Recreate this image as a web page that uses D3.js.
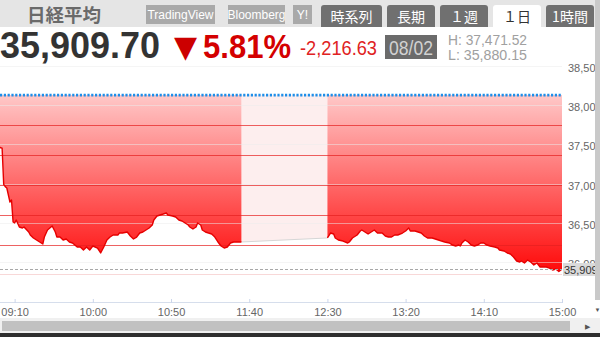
<!DOCTYPE html>
<html>
<head>
<meta charset="utf-8">
<script src="https://cdn.jsdelivr.net/npm/d3@7"></script>
<style>
  body { margin: 0; background: #fff; }
  svg { display: block; font-family: "Liberation Sans", Arial, sans-serif; }
</style>
</head>
<body>
<div id="d3-container"></div>
<script>
// morning session (前場)
const amTimes = ["09:00","09:01","09:02","09:03","09:04","09:05","09:07","09:08","09:09","09:10",
  "09:11","09:13","09:15","09:16","09:19","09:20","09:22","09:24","09:26","09:28",
  "09:29","09:31","09:34","09:36","09:37","09:39","09:41","09:43","09:45","09:47",
  "09:50","09:52","09:54","09:56","09:58","10:00","10:03","10:05","10:07","10:09",
  "10:11","10:13","10:16","10:17","10:19","10:22","10:24","10:26","10:28","10:30",
  "10:32","10:34","10:36","10:38","10:39","10:41","10:43","10:45","10:47","10:48",
  "10:51","10:53","10:55","10:57","10:59","11:01","11:02","11:04","11:06","11:07",
  "11:09","11:10","11:12","11:14","11:16","11:18","11:20","11:22","11:24","11:26",
  "11:28","11:30","11:35"];
const amPrices = [37471,37455,37450,36990,36960,36943,36764,36790,36510,36497,
  36535,36446,36433,36446,36382,36344,36306,36280,36255,36229,
  36318,36408,36458,36382,36318,36318,36280,36293,36255,36242,
  36191,36191,36153,36191,36153,36204,36178,36115,36191,36280,
  36318,36344,36344,36369,36369,36382,36331,36293,36318,36369,
  36382,36408,36433,36471,36535,36586,36599,36611,36624,36599,
  36586,36573,36535,36522,36497,36471,36446,36420,36446,36497,
  36471,36408,36382,36369,36357,36318,36255,36204,36178,36191,
  36242,36255,36255];

// afternoon session (後場)
const pmTimes = ["12:30","12:32","12:34","12:35","12:37","12:40","12:43","12:44","12:46","12:49",
  "12:51","12:52","12:54","12:56","12:58","13:00","13:02","13:05","13:07","13:09",
  "13:11","13:13","13:15","13:18","13:20","13:22","13:23","13:26","13:28","13:30",
  "13:32","13:34","13:37","13:39","13:41","13:43","13:45","13:48","13:50","13:52",
  "13:54","13:55","13:56","13:58","14:00","14:02","14:04","14:06","14:08","14:10",
  "14:12","14:14","14:17","14:19","14:20","14:23","14:25","14:27","14:29","14:31",
  "14:33","14:34","14:36","14:38","14:40","14:42","14:44","14:46","14:48","14:50",
  "14:52","14:54","14:56","14:58","15:00"];
const pmPrices = [36306,36369,36357,36306,36280,36267,36242,36255,36306,36344,
  36395,36408,36382,36357,36382,36408,36369,36369,36331,36318,
  36318,36344,36344,36369,36395,36433,36395,36395,36382,36369,
  36331,36306,36306,36293,36280,36267,36255,36242,36216,36204,
  36216,36204,36242,36280,36255,36216,36204,36216,36242,36242,
  36216,36204,36191,36178,36153,36140,36115,36102,36064,36013,
  36000,36013,35987,36025,36000,35962,35987,35936,35936,35936,
  35923,35898,35911,35880,35909.70];

const prevClose = 38126.33;
const lastPrice = 35909.70;
const pctLevels = [-1, -2, -3, -4, -5];
const yTicks = [36000, 36500, 37000, 37500, 38000, 38500];
const xTickLabels = ["09:10","10:00","10:50","11:40","12:30","13:20","14:10","15:00"];

const linkButtons = ["TradingView", "Bloomberg", "Y!"];
const tabs = ["時系列", "長期", "１週", "１日", "1時間"];

const width = 600, height = 337;
const plot = { left: 0, right: 562, top: 66, bottom: 275 };

const parseTime = d3.timeParse("%H:%M");
const am = amTimes.map((t, i) => ({ t: parseTime(t), v: amPrices[i] }));
const pm = pmTimes.map((t, i) => ({ t: parseTime(t), v: pmPrices[i] }));
const lunch = [am[am.length - 1], pm[0]];

const svg = d3.select("#d3-container").append("svg")
  .attr("width", width).attr("height", height);

svg.append("rect").attr("width", width).attr("height", height).attr("fill", "#fff");

// header bar
svg.append("rect").attr("width", width).attr("height", 27).attr("fill", "#e5e5e5");
svg.append("text").attr("x", 27).attr("y", 22)
  .attr("font-family", "'Noto Sans CJK JP', sans-serif").attr("font-weight", "bold")
  .attr("font-size", 18.5).attr("fill", "#6a6a6a").text("日経平均");

const btnX = [146, 228, 293], btnW = [69, 57, 19];
linkButtons.forEach((b, i) => {
  svg.append("rect").attr("x", btnX[i]).attr("y", 5).attr("width", btnW[i]).attr("height", 19)
    .attr("fill", "#a9a9a9");
  svg.append("text").attr("x", btnX[i] + btnW[i] / 2).attr("y", 19).attr("text-anchor", "middle")
    .attr("font-size", 12).attr("fill", "#fff").text(b);
});

const tabX = [321, 387, 440, 493, 546], tabW = [61, 48, 48, 48, 48];
tabs.forEach((t, i) => {
  const x0 = tabX[i], x1 = tabX[i] + tabW[i], r = 3;
  const active = i === 3;
  svg.append("path")
    .attr("d", `M${x0},27V${5 + r}Q${x0},5 ${x0 + r},5H${x1 - r}Q${x1},5 ${x1},${5 + r}V27Z`)
    .attr("fill", active ? "#fff" : "#707070");
  svg.append("text").attr("x", (x0 + x1) / 2).attr("y", 22).attr("text-anchor", "middle")
    .attr("font-family", "'Noto Sans CJK JP', sans-serif")
    .attr("font-size", 14).attr("fill", active ? "#333" : "#fff").text(t);
});

// price row
svg.append("text").attr("x", 0).attr("y", 58).attr("font-size", 36).attr("font-weight", "bold")
  .attr("fill", "#333").attr("textLength", 160).attr("lengthAdjust", "spacingAndGlyphs")
  .text(d3.format(",.2f")(lastPrice));
svg.append("text").attr("x", 174).attr("y", 57).attr("font-family", "'DejaVu Sans'")
  .attr("font-size", 30).attr("fill", "#cc0000").text("▼");
svg.append("text").attr("x", 203).attr("y", 58).attr("font-size", 34).attr("font-weight", "bold")
  .attr("fill", "#d40000").attr("textLength", 88).attr("lengthAdjust", "spacingAndGlyphs")
  .text("5.81%");
svg.append("text").attr("x", 300).attr("y", 55).attr("font-size", 21)
  .attr("fill", "#e02222").attr("textLength", 77).attr("lengthAdjust", "spacingAndGlyphs")
  .text("-2,216.63");
svg.append("rect").attr("x", 385).attr("y", 35).attr("width", 52).attr("height", 24).attr("fill", "#6b6b6b");
svg.append("text").attr("x", 411).attr("y", 55).attr("text-anchor", "middle").attr("font-size", 21)
  .attr("fill", "#d2d2d2").attr("textLength", 44).attr("lengthAdjust", "spacingAndGlyphs").text("08/02");
svg.append("text").attr("x", 448).attr("y", 45).attr("font-size", 14.5).attr("fill", "#a0a0a0")
  .attr("textLength", 79).attr("lengthAdjust", "spacingAndGlyphs").text("H: 37,471.52");
svg.append("text").attr("x", 448).attr("y", 60).attr("font-size", 14.5).attr("fill", "#a0a0a0")
  .attr("textLength", 79).attr("lengthAdjust", "spacingAndGlyphs").text("L: 35,880.15");

// scales
const x = d3.scaleTime().domain([parseTime("09:00"), parseTime("15:00")]).range([-1, plot.right]);
const y = d3.scaleLinear().domain([36000, 38000]).range([262, 105]);

const defs = svg.append("defs");
const grad = defs.append("linearGradient").attr("id", "redFill")
  .attr("gradientUnits", "userSpaceOnUse")
  .attr("x1", 0).attr("x2", 0).attr("y1", y(prevClose)).attr("y2", y(35880));
grad.append("stop").attr("offset", 0).attr("stop-color", "#ffc8c8");
grad.append("stop").attr("offset", 1).attr("stop-color", "#ff0a0a");
defs.append("clipPath").attr("id", "plotClip").append("rect")
  .attr("x", plot.left).attr("y", plot.top).attr("width", plot.right - plot.left)
  .attr("height", plot.bottom - plot.top);

const g = svg.append("g").attr("clip-path", "url(#plotClip)");

// bottom border of plot
g.append("line").attr("x1", 0).attr("x2", plot.right).attr("y1", plot.bottom - 0.5).attr("y2", plot.bottom - 0.5)
  .attr("stroke", "#f8d8d8");

const area = d3.area().x(d => x(d.t)).y0(y(prevClose)).y1(d => y(d.v));
const line = d3.line().x(d => x(d.t)).y(d => y(d.v));

g.append("path").datum(lunch).attr("d", area).attr("fill", "#fdeeee");
g.append("path").datum(lunch).attr("d", line).attr("fill", "none").attr("stroke", "#d6d6d6");
[am, pm].forEach(s => {
  g.append("path").datum(s).attr("d", area).attr("fill", "url(#redFill)");
});

// value gridlines
g.selectAll("line.grid").data(yTicks).join("line").attr("class", "grid")
  .attr("x1", 0).attr("x2", plot.right)
  .attr("y1", d => Math.round(y(d)) + 0.5).attr("y2", d => Math.round(y(d)) + 0.5)
  .attr("stroke", "#ececec").attr("stroke-opacity", 0.5);

// percent change lines
g.selectAll("line.pct").data(pctLevels).join("line").attr("class", "pct")
  .attr("x1", 0).attr("x2", plot.right)
  .attr("y1", d => Math.round(y(prevClose * (1 + d / 100))) + 0.5)
  .attr("y2", d => Math.round(y(prevClose * (1 + d / 100))) + 0.5)
  .attr("stroke", "#e62020").attr("stroke-opacity", 0.7);

[am, pm].forEach(s => {
  g.append("path").datum(s).attr("d", line).attr("fill", "none")
    .attr("stroke", "#e60000").attr("stroke-width", 1.4).attr("stroke-linejoin", "round");
});

// previous close
g.append("line").attr("x1", 0).attr("x2", plot.right)
  .attr("y1", y(prevClose)).attr("y2", y(prevClose))
  .attr("stroke", "#1e8ee8").attr("stroke-width", 2.6).attr("stroke-dasharray", "2.2,1.6");

// last price line
g.append("line").attr("x1", 0).attr("x2", plot.right)
  .attr("y1", Math.round(y(lastPrice)) + 0.5).attr("y2", Math.round(y(lastPrice)) + 0.5)
  .attr("stroke", "#a8a8a8").attr("stroke-dasharray", "3,2");

// y axis (right)
const yAxis = svg.append("g").attr("transform", `translate(${plot.right},2)`)
  .call(d3.axisRight(y).tickValues(yTicks).tickFormat(d3.format(",")).tickSize(0).tickPadding(6));
yAxis.select(".domain").remove();
yAxis.selectAll("text").attr("font-size", 11).attr("fill", "#666")
  .attr("font-family", "'Liberation Sans', Arial, sans-serif");

// last price label
svg.append("rect").attr("x", 563).attr("y", 263).attr("width", 37).attr("height", 13).attr("fill", "#dadada");
svg.append("text").attr("x", 564).attr("y", 273.5).attr("font-size", 11).attr("fill", "#333")
  .text(d3.format(",.2f")(lastPrice));

// x axis
const xAxis = svg.append("g").attr("transform", "translate(0,302)")
  .call(d3.axisBottom(x).tickValues(xTickLabels.map(parseTime)).tickFormat(d3.timeFormat("%H:%M"))
    .tickSizeOuter(0).tickSize(3).tickPadding(3));
xAxis.select(".domain").attr("stroke", "#d6deec").attr("d", `M0,0.5H${plot.right}`);
xAxis.selectAll(".tick line").attr("stroke", "#ccd6eb").attr("y1", -3).attr("y2", 1);
xAxis.selectAll("text").attr("font-size", 11).attr("fill", "#666")
  .attr("font-family", "'Liberation Sans', Arial, sans-serif");

// scrollbars
svg.append("rect").attr("x", 595).attr("y", 0).attr("width", 5).attr("height", 300).attr("fill", "#c9c9c9");
svg.append("text").attr("x", 597.5).attr("y", 312).attr("text-anchor", "middle").attr("font-size", 6)
  .attr("fill", "#555").text("▼");
svg.append("rect").attr("x", 0).attr("y", 318).attr("width", 600).attr("height", 15).attr("fill", "#f0f0f0");
svg.append("rect").attr("x", 2).attr("y", 321).attr("width", 568).attr("height", 10).attr("fill", "#c1c1c1");
svg.append("text").attr("x", 587).attr("y", 329).attr("text-anchor", "middle").attr("font-size", 7)
  .attr("fill", "#555").text("▶");
svg.append("rect").attr("x", 0).attr("y", 333).attr("width", 600).attr("height", 4).attr("fill", "#2e2e2e");
</script>
</body>
</html>
